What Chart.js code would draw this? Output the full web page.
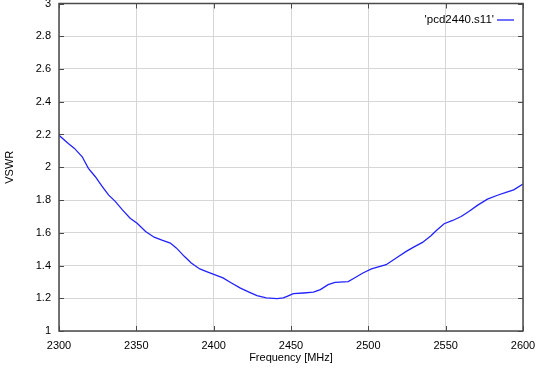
<!DOCTYPE html>
<html>
<head>
<meta charset="utf-8">
<script src="https://cdn.jsdelivr.net/npm/chart.js@4"></script>
<style>
  html, body { margin: 0; padding: 0; background: #fff; }
  #wrap { width: 540px; height: 368px; position: relative; }
</style>
</head>
<body>
<div id="wrap"><canvas id="vswrChart"></canvas></div>
<script>
/* ---- DATA ---- */
const SERIES_LABEL = "'pcd2440.s11'";
const freqs = [2300, 2306, 2310, 2315, 2319, 2323.5, 2328, 2332, 2336.5, 2341, 2346, 2350.5, 2356, 2361.5, 2367, 2372, 2376,
  2381, 2385.5, 2391, 2395, 2400.5, 2406, 2411.5, 2417, 2422.5, 2428, 2434, 2441, 2445, 2447.5, 2451.5, 2458, 2464.5,
  2469, 2474, 2478.5, 2487, 2491, 2496.5, 2502, 2511.5, 2519, 2524.5, 2529, 2535, 2540.5, 2544, 2549, 2554.5, 2560,
  2565, 2570.5, 2577, 2583.5, 2589, 2594, 2600];
const vswr = [2.195, 2.145, 2.115, 2.064, 1.993, 1.942, 1.882, 1.831, 1.790, 1.740, 1.689, 1.658, 1.608, 1.573, 1.553, 1.537, 1.506,
  1.456, 1.415, 1.379, 1.364, 1.344, 1.324, 1.293, 1.263, 1.239, 1.216, 1.202, 1.198, 1.202, 1.212, 1.228, 1.232, 1.237,
  1.253, 1.283, 1.297, 1.302, 1.324, 1.354, 1.379, 1.405, 1.452, 1.486, 1.511, 1.541, 1.582, 1.614, 1.655, 1.675, 1.699,
  1.730, 1.767, 1.805, 1.829, 1.846, 1.862, 1.898];
const X_MIN = 2300, X_MAX = 2600, X_STEP = 50;
const Y_MIN = 1, Y_MAX = 3, Y_STEP = 0.2;

const FONT = 'Liberation Sans, Arial, sans-serif';
const BORDER = '#4a4a4a';
const LINE = '#2222ff';

// stop Chart.js from reserving extra room for overhanging tick labels
function noOverhang(s) {
  s.paddingTop = 0; s.paddingBottom = 0; s.paddingLeft = 0; s.paddingRight = 0;
}

/* ---- gnuplot-ish frame: border, inward ticks, legend ---- */
const framePlugin = {
  id: 'frame',
  afterDraw(chart) {
    const { ctx, chartArea: a, scales } = chart;
    ctx.save();
    ctx.strokeStyle = BORDER;
    ctx.lineWidth = 1.5;
    ctx.strokeRect(a.left, a.top, a.right - a.left, a.bottom - a.top);

    ctx.lineWidth = 1;
    ctx.beginPath();
    scales.x.ticks.forEach(t => {
      const px = Math.round(scales.x.getPixelForValue(t.value)) + 0.5;
      ctx.moveTo(px, a.bottom); ctx.lineTo(px, a.bottom - 5);
      ctx.moveTo(px, a.top); ctx.lineTo(px, a.top + 5);
    });
    scales.y.ticks.forEach(t => {
      const py = Math.round(scales.y.getPixelForValue(t.value)) + 0.5;
      ctx.moveTo(a.left, py); ctx.lineTo(a.left + 5, py);
      ctx.moveTo(a.right, py); ctx.lineTo(a.right - 5, py);
    });
    ctx.stroke();

    // legend, top right inside the plot
    const ly = a.top + 16.5;
    ctx.font = '11.5px ' + FONT;
    ctx.fillStyle = '#000';
    ctx.textAlign = 'right';
    ctx.textBaseline = 'middle';
    ctx.fillText(SERIES_LABEL, a.right - 29, ly);
    ctx.strokeStyle = LINE;
    ctx.lineWidth = 1.3;
    ctx.beginPath();
    ctx.moveTo(a.right - 26, ly); ctx.lineTo(a.right - 9, ly);
    ctx.stroke();
    ctx.restore();
  }
};

new Chart(document.getElementById('vswrChart'), {
  type: 'line',
  data: {
    datasets: [{
      label: SERIES_LABEL,
      data: freqs.map((f, i) => ({ x: f, y: vswr[i] })),
      borderColor: LINE,
      borderWidth: 1.3,
      pointRadius: 0,
      tension: 0,
      fill: false
    }]
  },
  options: {
    responsive: true,
    maintainAspectRatio: false,
    animation: false,
    devicePixelRatio: 1,
    layout: { padding: { top: 3.5, right: 17, left: 0, bottom: 0 } },
    plugins: { legend: { display: false }, tooltip: { enabled: false } },
    scales: {
      x: {
        type: 'linear', min: X_MIN, max: X_MAX,
        grid: { color: '#d6d6d6', lineWidth: 1, drawTicks: false },
        border: { display: false },
        ticks: { stepSize: X_STEP, padding: 8, color: '#000', font: { family: FONT, size: 11 },
          maxRotation: 0, callback: v => String(v) },
        title: { display: true, text: 'Frequency [MHz]', color: '#000', font: { family: FONT, size: 11 },
          padding: { top: 0, bottom: 3 } },
        afterFit: s => { s.height = 37; noOverhang(s); }
      },
      y: {
        min: Y_MIN, max: Y_MAX,
        grid: { color: '#d6d6d6', lineWidth: 1, drawTicks: false },
        border: { display: false },
        ticks: { stepSize: Y_STEP, padding: 8, color: '#000', font: { family: FONT, size: 11 },
          callback: v => String(Math.round(v * 10) / 10) },
        title: { display: true, text: 'VSWR', color: '#000', font: { family: FONT, size: 11 },
          padding: { top: 3, bottom: 0 } },
        afterFit: s => { s.width = 59; noOverhang(s); }
      }
    }
  },
  plugins: [framePlugin]
});
</script>
</body>
</html>
